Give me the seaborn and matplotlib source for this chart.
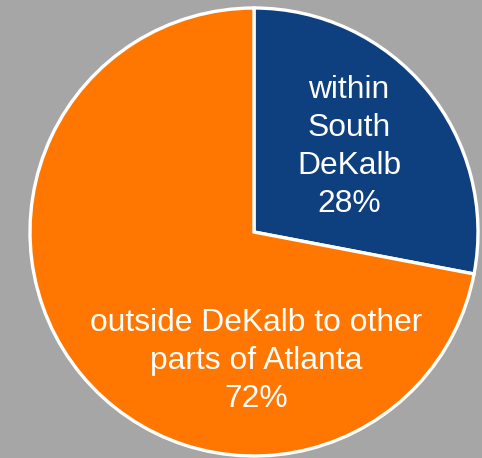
import matplotlib
matplotlib.use("Agg")
import matplotlib.pyplot as plt
import seaborn as sns

sns.set_theme(style="white")
plt.rcParams["font.family"] = ["Liberation Sans", "DejaVu Sans"]

# Commute destinations
labels = ["within\nSouth\nDeKalb", "outside DeKalb to other\nparts of Atlanta"]
shares = [28, 72]
colors = ["#0E3F7E", "#FF7700"]

W, H = 482, 458
fig = plt.figure(figsize=(W / 100, H / 100), dpi=100)
fig.patch.set_facecolor("#A6A6A6")
ax = fig.add_axes([0, 0, 1, 1])
ax.set_facecolor("#A6A6A6")

# pie geometry in pixels (centre measured from the top-left)
R = 224.0
cx, cy = 254.0, H - 232.0
wedges, _ = ax.pie(
    shares,
    colors=colors,
    startangle=90,
    counterclock=False,
    radius=1.0,
    center=(0, 0),
    wedgeprops=dict(edgecolor="white", linewidth=2.4),
)
ax.set_xlim(-cx / R, (W - cx) / R)
ax.set_ylim(-cy / R, (H - cy) / R)
ax.set_aspect("equal")
ax.axis("off")

# label anchors, in pixels from the top-left
label_px = [(349, 147), (256, 361)]
for (px, py), lab, val in zip(label_px, labels, shares):
    tx = (px - cx) / R
    ty = ((H - py) - cy) / R
    ax.text(tx, ty, f"{lab}\n{val}%", ha="center", va="center",
            color="white", fontsize=22.9, linespacing=1.36)

fig.savefig("out.png", dpi=100, facecolor=fig.get_facecolor())
